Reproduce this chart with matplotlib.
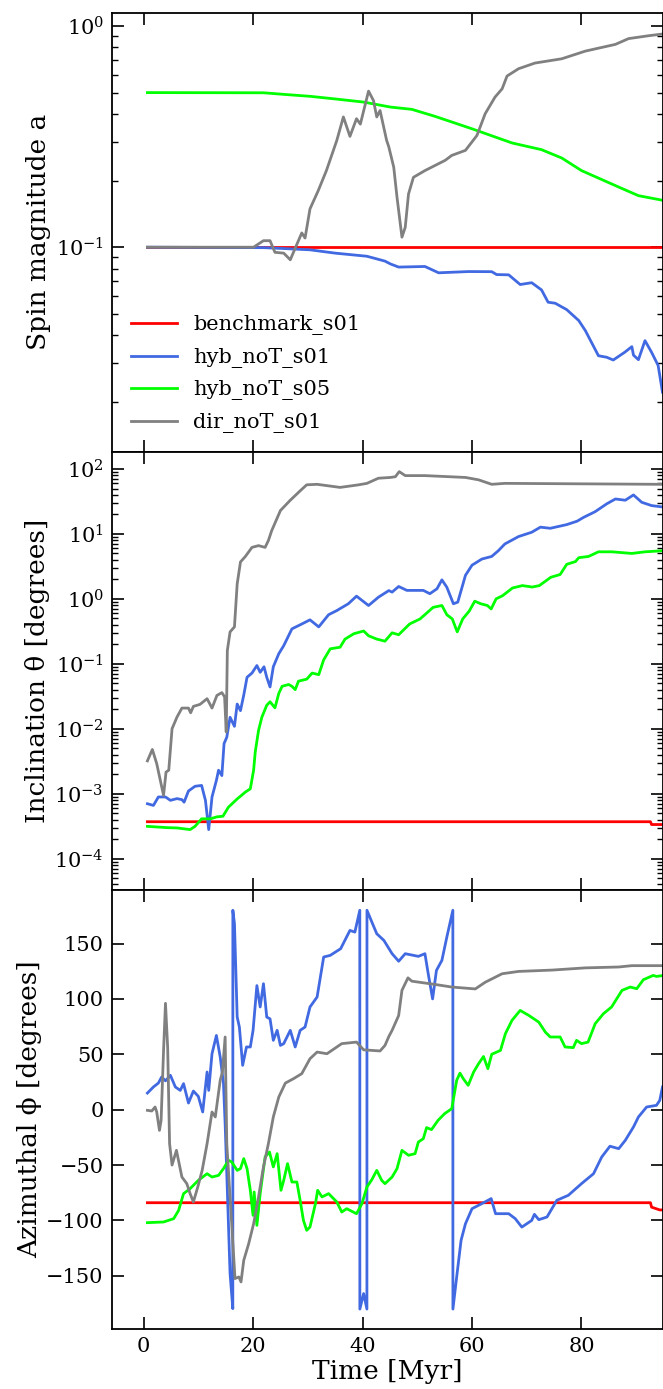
import matplotlib
matplotlib.use("Agg")
import matplotlib.pyplot as plt

plt.rcParams['font.family'] = ['DejaVu Serif']
plt.rcParams['mathtext.fontset'] = 'dejavuserif'

labels = ['benchmark_s01', 'hyb_noT_s01', 'hyb_noT_s05', 'dir_noT_s01']
colors = ['red', 'royalblue', 'lime', 'grey']

# --- spin magnitude ---
t_a_bench = [0.7, 94.8]
a_bench = [0.1, 0.1]

t_a_hyb01 = [0.7, 22, 26, 30.4, 35, 40.8, 44.1, 45.1, 46.6, 51.4, 53.9, 59.4, 63.6, 64.5, 66.7,
             68.8, 70.9, 72.7, 73.9, 75.2, 77.3, 79.5, 80.7, 83.1, 84.6, 85.8, 87.9, 89.2, 89.5,
             90.4, 91.6, 92.8, 94, 94.8]
a_hyb01 = [0.1, 0.0995, 0.0985, 0.0973, 0.094, 0.091, 0.0865, 0.084, 0.0813, 0.0818, 0.0766,
           0.0776, 0.0775, 0.0752, 0.075, 0.0678, 0.0691, 0.0641, 0.0564, 0.0558, 0.0522, 0.0466,
           0.042, 0.0323, 0.0318, 0.0309, 0.0335, 0.0355, 0.0325, 0.031, 0.0378, 0.0335, 0.0292,
           0.0221]

t_a_hyb05 = [0.7, 21.9, 26, 30.4, 35, 40.2, 45.1, 49, 53.3, 60, 67.3, 72.7, 76.4, 80, 86.8, 90.4, 94.8]
a_hyb05 = [0.5, 0.499, 0.49, 0.481, 0.468, 0.453, 0.43, 0.42, 0.39, 0.343, 0.296, 0.276, 0.253,
           0.222, 0.187, 0.171, 0.163]

t_a_dir = [0.7, 20.1, 21.9, 23.1, 24.0, 25.6, 26.8, 27.7, 28.9, 29.5, 30.4, 31.9, 33.4, 35.3,
           36.5, 37.7, 38.9, 39.6, 41.1, 42.0, 42.6, 43.2, 44.4, 44.8, 45.7, 46.3, 47.2, 47.8,
           48.4, 49.3, 51.4, 55.1, 56.3, 58.8, 60.9, 62.4, 64.2, 65.5, 66.4, 68.5, 71.5, 76.4,
           80.7, 86.2, 88.6, 92.3, 94.8]
a_dir = [0.1, 0.1, 0.107, 0.107, 0.0948, 0.094, 0.0877, 0.099, 0.116, 0.11, 0.149, 0.18, 0.222,
         0.304, 0.388, 0.317, 0.381, 0.36, 0.508, 0.46, 0.388, 0.415, 0.304, 0.284, 0.23, 0.168,
         0.111, 0.123, 0.174, 0.207, 0.222, 0.247, 0.26, 0.274, 0.32, 0.401, 0.477, 0.52, 0.594,
         0.641, 0.68, 0.711, 0.77, 0.826, 0.877, 0.904, 0.92]

# --- inclination ---
t_th_bench = [0.7, 92.6, 92.8, 94.8]
th_bench = [3.7e-4, 3.7e-4, 3.35e-4, 3.35e-4]

t_th_hyb01 = [0.7, 1.8, 2.7, 4.0, 4.9, 6.1, 7.0, 7.4, 8.2, 9.4, 10.6, 11.3, 11.9, 12.5, 13.3,
              13.7, 14.3, 14.7, 15.2, 15.8, 16.6, 17.1, 17.7, 18.3, 18.9, 19.8, 20.7, 21.3, 22.0,
              22.5, 23.1, 23.7, 24.7, 25.6, 27.1, 28.9, 30.4, 32.0, 33.8, 35.3, 37.4, 38.9, 41.1,
              42.9, 44.8, 45.4, 46.6, 48.1, 51.1, 52.3, 53.6, 54.5, 55.4, 56.6, 57.4, 58.8, 60.0,
              61.8, 63.6, 64.8, 66.0, 68.5, 70.9, 72.5, 74.3, 77.3, 79.2, 80.4, 82.5, 84.6, 86.2,
              88.0, 89.5, 91.0, 92.8, 94.8]
th_hyb01 = [7.0e-4, 6.6e-4, 8.9e-4, 8.9e-4, 7.9e-4, 8.4e-4, 8.1e-4, 7.4e-4, 1.1e-3, 1.3e-3,
            1.34e-3, 7.9e-4, 2.8e-4, 8.9e-4, 1.6e-3, 2.3e-3, 1.9e-3, 5.9e-3, 7.4e-3, 0.015,
            0.0109, 0.024, 0.019, 0.033, 0.062, 0.072, 0.094, 0.074, 0.09, 0.062, 0.044, 0.09,
            0.143, 0.19, 0.345, 0.41, 0.475, 0.37, 0.57, 0.66, 0.84, 1.1, 0.79, 1.06, 1.34, 1.27,
            1.55, 1.35, 1.35, 1.2, 1.43, 1.96, 1.51, 0.84, 0.89, 2.3, 3.3, 4.1, 4.5, 5.5, 7.0,
            9.1, 10.6, 12.7, 12.2, 13.9, 15.7, 18, 22, 29, 34.5, 33, 39.8, 30.7, 27.3, 26]

t_th_hyb05 = [0.7, 4.3, 6.1, 8.5, 9.4, 10.6, 12.2, 13.4, 14.5, 15.5, 17.1, 18.6, 19.5, 20.1,
              20.4, 21.0, 21.6, 22.5, 23.1, 24.0, 24.7, 25.3, 26.5, 27.1, 27.7, 28.3, 29.8, 30.8,
              32.0, 32.9, 34.1, 35.9, 36.8, 38.4, 40.2, 41.1, 42.6, 44.1, 45.4, 46.6, 48.6, 50.5,
              52.9, 54.5, 55.4, 56.4, 57.3, 58.3, 59.5, 60.5, 61.6, 62.8, 63.5, 64.4, 65.6, 67.4,
              69.2, 71.0, 72.3, 74.4, 76.1, 77.3, 78.9, 79.5, 81.3, 83.1, 85.6, 89.2, 91.6, 94.8]
th_hyb05 = [3.14e-4, 3.0e-4, 2.97e-4, 2.8e-4, 3.14e-4, 4.1e-4, 4.1e-4, 4.4e-4, 4.5e-4, 6.2e-4,
            8.3e-4, 1.06e-3, 1.19e-3, 2.3e-3, 4.4e-3, 9.4e-3, 0.015, 0.023, 0.026, 0.021, 0.035,
            0.045, 0.048, 0.045, 0.040, 0.054, 0.058, 0.072, 0.068, 0.115, 0.17, 0.18, 0.24,
            0.29, 0.32, 0.27, 0.24, 0.223, 0.3, 0.28, 0.41, 0.49, 0.74, 0.79, 0.57, 0.49, 0.31,
            0.49, 0.65, 0.92, 0.84, 0.79, 0.7, 1.0, 1.12, 1.47, 1.6, 1.52, 1.6, 2.15, 2.37, 3.4,
            3.75, 4.3, 4.5, 5.3, 5.3, 5.0, 5.3, 5.5]

t_th_dir = [0.7, 1.6, 2.4, 3.65, 4.1, 4.6, 5.2, 6.1, 7.0, 8.2, 8.6, 9.1, 10.3, 11.6, 12.5, 13.4,
            14.3, 14.8, 15.1, 15.3, 15.8, 16.6, 17.1, 17.7, 18.6, 19.8, 21.0, 22.2, 22.8, 23.4,
            25.0, 26.8, 28.6, 29.8, 31.7, 35.9, 39.3, 40.8, 42.9, 45.1, 46.0, 46.7, 47.8, 51.4,
            58.8, 61.2, 63.6, 66.0, 94.8]
th_dir = [3.2e-3, 4.8e-3, 2.9e-3, 9.4e-4, 2.15e-3, 2.3e-3, 0.01, 0.0151, 0.0208, 0.0208, 0.0176,
          0.0221, 0.0237, 0.029, 0.0208, 0.0326, 0.036, 0.031, 0.0089, 0.16, 0.31, 0.37, 1.7, 3.7,
          4.5, 6.2, 6.6, 6.2, 7.9, 11.2, 22.9, 33, 46, 57, 58, 52, 57, 60, 72, 74, 76, 91, 79, 79,
          74, 68, 58, 60, 58]

# --- azimuth ---
t_ph_bench = [0.7, 92.6, 92.8, 94.3, 94.8]
ph_bench = [-84, -84, -88, -90.5, -90.5]

t_ph_hyb01 = [0.7, 1.8, 2.7, 3.3, 4.0, 4.9, 5.8, 6.7, 7.3, 8.2, 9.1, 10.0, 10.8, 11.6, 11.9, 12.5,
              13.3, 14.0, 14.6, 14.9, 15.4, 15.8, 16.3, 16.31, 16.6, 17.1, 17.5, 18.1, 18.8, 19.5,
              20.0, 20.7, 21.3, 21.9, 22.5, 23.1, 23.7, 24.4, 25.0, 25.6, 26.8, 27.7, 28.6, 29.5,
              30.4, 31.7, 32.9, 34.1, 36.0, 37.7, 38.6, 39.5, 39.51, 40.2, 40.8, 40.81, 41.7, 42.6,
              43.9, 45.4, 46.6, 47.8, 50.2, 51.4, 52.0, 52.8, 53.5, 54.5, 55.4, 56.5, 56.51, 57.2,
              58.0, 58.8, 60.0, 61.8, 63.5, 64.3, 66.7, 67.9, 69.1, 70.9, 71.4, 72.2, 73.7, 75.5,
              77.6, 80.0, 82.2, 83.7, 85.2, 86.8, 88.0, 89.5, 90.4, 91.9, 93.7, 94.3, 94.8]
ph_hyb01 = [15, 20.5, 24, 29.5, 26, 31, 20.5, 17.4, 23.5, 6, 16.8, 12, -2.1, 34, 17.4, 50.5, 67,
            47.5, 23.5, -12.6, -87.8, -148, -179.6, 180, 168, 83.6, 74.6, 40, 56.6, 56.6, 71.6,
            112, 92.7, 113.7, 83.6, 82, 62.6, 71.6, 58, 59.6, 71.6, 56.6, 71.6, 74.6, 92.7, 101.7,
            137.8, 139.3, 145.3, 161.8, 160.3, 180, -180, -166, -180, 180, 169.4, 158.8, 152.8,
            140.8, 134, 140.8, 138.4, 140.8, 122.7, 100, 125.7, 134.8, 155.8, 180, -180, -151,
            -118, -103, -89.4, -84.8, -80.3, -93.9, -93.9, -98.4, -106, -100, -94.5, -99.3, -96.9,
            -81.8, -77.3, -66.8, -57.8, -42.7, -33, -35.2, -27.7, -15.6, -6.6, 2.4, 3.9, 8.4, 20.5]

t_ph_hyb05 = [0.7, 3.65, 5.5, 6.4, 7.3, 8.5, 10.0, 11.6, 12.5, 13.7, 14.6, 15.5, 16.1, 17.1, 17.7,
              18.3, 18.9, 19.5, 20.0, 20.2, 20.7, 21.3, 22.2, 23.0, 23.7, 24.4, 25.1, 25.6, 26.3,
              27.1, 28.0, 28.6, 29.2, 29.8, 30.4, 31.4, 31.8, 32.6, 33.8, 35.3, 36.2, 37.1, 38.9,
              39.9, 40.8, 41.7, 42.6, 43.5, 44.1, 45.4, 46.3, 47.2, 48.4, 49.6, 50.2, 51.1, 51.7,
              52.6, 53.8, 55.0, 56.3, 57.2, 57.8, 58.4, 59.3, 60.3, 61.2, 62.1, 62.9, 63.6, 65.2,
              66.1, 67.3, 68.8, 70.4, 72.2, 73.4, 74.3, 76.1, 77.0, 78.5, 79.1, 80.0, 81.2, 82.5,
              84.0, 85.5, 87.4, 88.9, 90.1, 91.3, 93.1, 93.7, 94.8]
ph_hyb05 = [-102, -101.4, -98.4, -90.9, -75.8, -71.3, -63.8, -57.8, -60.8, -59.3, -53.2, -45.7,
            -47.2, -54.8, -53.2, -44.2, -53.2, -72.8, -95.4, -74.3, -104.4, -75.8, -42.7, -38.2,
            -51.7, -39.7, -72.8, -63.8, -48.7, -65.3, -65.3, -81.8, -99.9, -108.9, -105.9, -84.8,
            -72.8, -78.8, -75.8, -83.3, -92.4, -89.4, -93.9, -84.8, -69.8, -63.2, -54.8, -63.8,
            -66.8, -60.8, -53.2, -36.7, -41.2, -39.7, -29.2, -26.2, -16.2, -18, -9.6, -3.6, 0.9,
            26.5, 33, 28, 22, 34, 41.5, 48, 37, 50, 53.5, 68.6, 80.6, 89.6, 85, 79, 70, 65.6,
            65.6, 56.6, 56, 62.6, 59.6, 61, 77.6, 86.6, 92.7, 107.7, 110.7, 109.2, 117.3, 121.2,
            120.3, 121]

t_ph_dir = [0.7, 1.5, 2.1, 2.4, 2.9, 3.2, 3.65, 4.0, 4.4, 4.75, 5.2, 6.0, 7.0, 7.9, 8.5, 9.1, 9.9,
            10.7, 11.6, 12.5, 13.1, 14.0, 14.4, 14.9, 15.2, 15.5, 16.1, 16.7, 17.4, 17.8, 18.3,
            19.2, 20.1, 21.0, 21.9, 22.8, 23.7, 24.7, 25.9, 27.4, 28.9, 30.4, 31.7, 33.5, 36.2,
            38.9, 40.2, 43.2, 44.1, 44.8, 45.4, 46.6, 47.2, 48.3, 49.0, 53.3, 56.3, 60.6, 62.4,
            65.5, 68.5, 74.6, 80.7, 86.8, 89.2, 94.8]
ph_dir = [-0.6, -1.2, 2.4, -2.1, -18.7, -9.6, 53.5, 96, 56, -30.7, -50, -36.7, -60.8, -66.8,
          -75.8, -83.3, -69.8, -54.8, -30.7, -2.1, -6.6, 26.5, 34, 65.6, -30.7, -54.8, -103,
          -152.5, -151, -155.5, -136, -121, -103, -78.8, -51.7, -30.7, -6.6, 11.4, 24, 28, 32.5,
          46, 52, 50.5, 59.6, 61, 54, 53, 58, 66, 71.6, 85, 107.7, 119, 116, 113, 110.7, 109, 115,
          122.7, 124.8, 126, 128, 128.8, 130, 130]

panels = [
    ([(t_a_bench, a_bench), (t_a_hyb01, a_hyb01), (t_a_hyb05, a_hyb05), (t_a_dir, a_dir)],
     'Spin magnitude a', 'log', (0.0119, 1.145)),
    ([(t_th_bench, th_bench), (t_th_hyb01, th_hyb01), (t_th_hyb05, th_hyb05), (t_th_dir, th_dir)],
     'Inclination θ [degrees]', 'log', (3.25e-5, 184.6)),
    ([(t_ph_bench, ph_bench), (t_ph_hyb01, ph_hyb01), (t_ph_hyb05, ph_hyb05), (t_ph_dir, ph_dir)],
     'Azimuthal ϕ [degrees]', 'linear', (-198, 198)),
]

fig, axes = plt.subplots(3, 1, sharex=True, figsize=(6.63, 13.89), dpi=100)
fig.subplots_adjust(left=112 / 663, right=662.5 / 663, top=1 - 13 / 1389,
                    bottom=1 - 1329 / 1389, hspace=0)

for ax, (series, ylabel, yscale, ylim) in zip(axes, panels):
    for (t, v), c, lab in zip(series, colors, labels):
        ax.plot(t, v, color=c, lw=2.0, label=lab)
    ax.set_yscale(yscale)
    ax.set_ylim(*ylim)
    ax.set_ylabel(ylabel, fontsize=19, labelpad=3)
    ax.tick_params(which='both', direction='in', top=True, right=True, labelsize=15, pad=6)
    ax.tick_params(which='major', length=8.5, width=1.2)
    ax.tick_params(which='minor', length=4, width=1.0)
    for s in ax.spines.values():
        s.set_linewidth(1.3)

axes[2].set_xlim(-5.77, 94.8)
axes[2].set_xticks([0, 20, 40, 60, 80])
axes[2].set_yticks([-150, -100, -50, 0, 50, 100, 150])
axes[2].set_xlabel('Time [Myr]', fontsize=19, labelpad=2)

axes[0].legend(loc='lower left', frameon=False, fontsize=15, handlelength=2.2,
               labelspacing=0.6)

fig.savefig('out.png', dpi=100)
